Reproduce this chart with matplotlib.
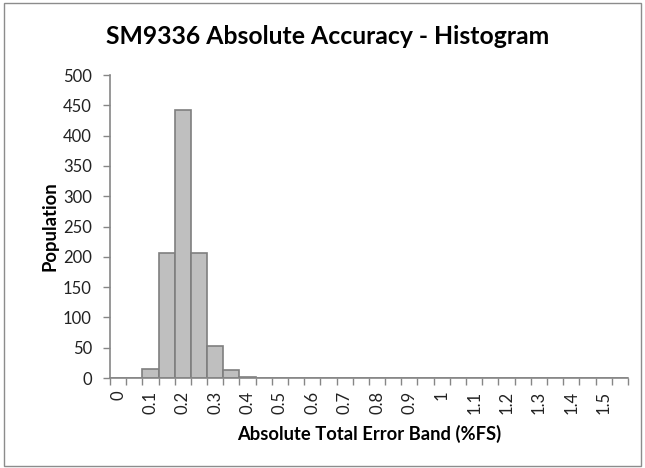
import numpy as np
import matplotlib.pyplot as plt
from matplotlib.patches import Rectangle

plt.rcParams['font.family'] = ['Lato', 'DejaVu Sans']

# histogram bins (%FS) and counts
bins = [round(0.05 * i, 2) for i in range(32)]
counts = [0, 0, 15, 207, 443, 206, 53, 14, 2] + [0] * 23
labels = ["0", "0.1", "0.2", "0.3", "0.4", "0.5", "0.6", "0.7", "0.8",
          "0.9", "1", "1.1", "1.2", "1.3", "1.4", "1.5"]

fig = plt.figure(figsize=(6.45, 4.68), dpi=100)
fig.patches.append(Rectangle((0.006, 0.004), 0.988, 0.99, transform=fig.transFigure,
                             fill=False, edgecolor='#8c8c8c', linewidth=1))
ax = fig.add_axes([0.1705, 0.1923, 0.803, 0.6474])

x = np.arange(len(bins))
ax.bar(x, counts, width=1.0, color='#bfbfbf', edgecolor='#7f7f7f', linewidth=1.2)

ax.set_xlim(-0.5, len(bins) - 0.5)
ax.set_ylim(0, 500)
ax.set_yticks(range(0, 501, 50))
ax.tick_params(axis='y', labelsize=12, length=5, color='#868686', width=1,
               pad=8, labelcolor='#222222')

ax.set_xticks(np.arange(-0.5, len(bins), 1))
ax.set_xticklabels([])
ax.set_xticks(x[::2], minor=True)
ax.set_xticklabels(labels, minor=True, rotation=90, fontsize=12, color='#222222')
ax.tick_params(axis='x', which='major', length=5, color='#868686', width=1)
ax.tick_params(axis='x', which='minor', length=0, pad=9)

for s in ['top', 'right']:
    ax.spines[s].set_visible(False)
for s in ['left', 'bottom']:
    ax.spines[s].set_color('#868686')
    ax.spines[s].set_linewidth(1.2)

fig.text(49.5 / 645, 1 - 226.5 / 468, "Population", rotation=90, ha='center', va='center',
         fontsize=13.3, fontweight='bold')
fig.text(369 / 645, 1 - 434 / 468, "Absolute Total Error Band (%FS)", ha='center', va='center',
         fontsize=13.2, fontweight='bold')
fig.text(328 / 645, 1 - 36 / 468, "SM9336 Absolute Accuracy - Histogram", ha='center', va='center',
         fontsize=17.8, fontweight='bold')

fig.savefig("out.png", dpi=100)
